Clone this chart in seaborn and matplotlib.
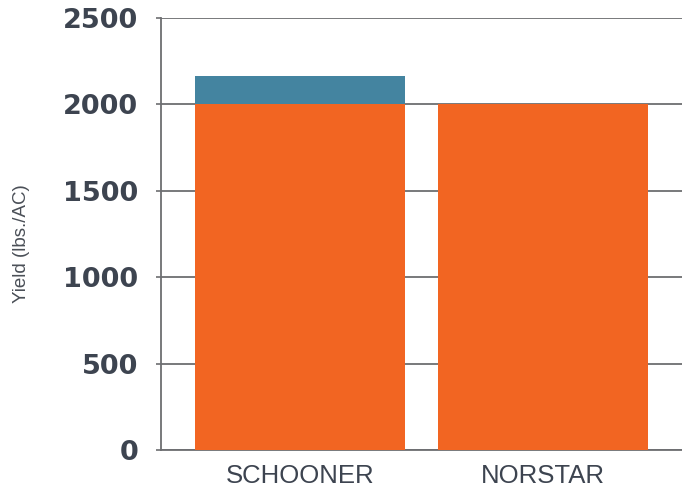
import matplotlib
matplotlib.use("Agg")
import matplotlib.pyplot as plt
import seaborn as sns
import pandas as pd

varieties = ["SCHOONER", "NORSTAR"]
base_yield = [2000, 2000]
extra_yield = [165, 0]
y_ticks = [0, 500, 1000, 1500, 2000, 2500]

sns.set_theme(style="white")
plt.rcParams['font.family'] = ['DejaVu Sans']

df = pd.DataFrame({
    "variety": varieties,
    "base": base_yield,
    "total": [b + e for b, e in zip(base_yield, extra_yield)],
})

fig = plt.figure(figsize=(6.82, 4.87), dpi=100)
ax = fig.add_axes([161/682, 37/487, 1 - 161/682, 432/487])

sns.barplot(data=df, x="variety", y="total", color="#4484A0", width=0.864,
            saturation=1, ax=ax, zorder=3, linewidth=0, edgecolor="none")
sns.barplot(data=df, x="variety", y="base", color="#F26522", width=0.864,
            saturation=1, ax=ax, zorder=4, linewidth=0, edgecolor="none")

ax.set_ylim(0, 2500)
ax.set_xlim(-0.572, 1.572)
ax.set_yticks(y_ticks)
ax.set_yticklabels([str(t) for t in y_ticks], fontsize=19.5, fontweight="bold",
                   color="#3d4450")
ax.tick_params(axis="y", length=3.5, width=1.2, color="#6d6e71", pad=13, left=True)
ax.tick_params(axis="x", length=0, pad=10)
for lbl in ax.get_xticklabels():
    lbl.set_fontsize(18.5)
    lbl.set_color("#3d4450")
    lbl.set_family(["Liberation Sans", "DejaVu Sans"])

ax.yaxis.grid(True, color="#6d6e71", linewidth=1.3, zorder=1)
ax.set_axisbelow(True)
for s in ["top", "right"]:
    ax.spines[s].set_visible(False)
for s in ["left", "bottom"]:
    ax.spines[s].set_color("#6d6e71")
    ax.spines[s].set_linewidth(1.3)

ax.set_xlabel("")
ax.set_ylabel("")
fig.text(22/682, 0.5, "Yield (lbs./AC)", rotation=90, ha="center", va="center",
         fontsize=13.5, color="#4a4f57", family=["Liberation Sans", "DejaVu Sans"])

fig.savefig("out.png", dpi=100)
